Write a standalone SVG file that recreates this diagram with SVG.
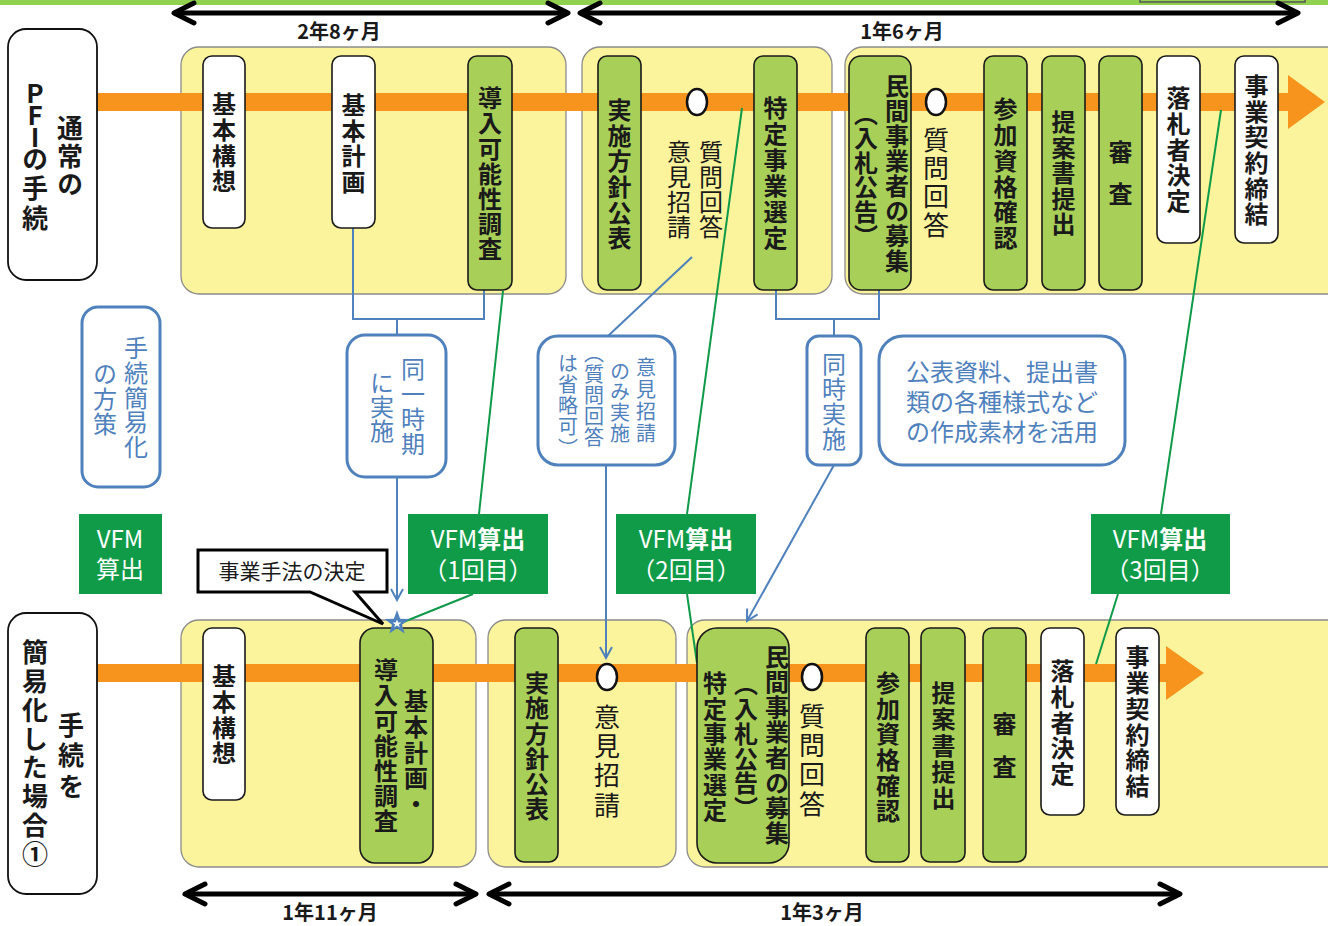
<svg xmlns="http://www.w3.org/2000/svg" width="1328" height="926" viewBox="0 0 1328 926">
<defs>
<style>
.grp{fill:#fbf49c;stroke:#8c8c8c;stroke-width:1.3}
.gb{fill:#a8cf58;stroke:#1a1a1a;stroke-width:1.6}
.wb{fill:#fff;stroke:#1a1a1a;stroke-width:1.6}
.lb{fill:#fff;stroke:#111;stroke-width:1.8}
.bb{fill:#fff;stroke:#4f81bd;stroke-width:3}
.vb{fill:#0f9b48}
.band{fill:#f7941d}
text{font-family:"Noto Sans CJK JP","Noto Sans CJK SC",sans-serif;text-anchor:middle}
.v{writing-mode:vertical-rl;text-anchor:start}
.t{font-size:24px;font-weight:700;fill:#1a1a1a}
.tl{font-size:26px;font-weight:700;fill:#1a1a1a}
.n{font-size:24px;font-weight:400;fill:#1a1a1a}
.n26{font-size:26px;font-weight:400;fill:#1a1a1a}
.bt{font-size:24px;font-weight:400;fill:#4f81bd}
.bt20{font-size:20px;font-weight:400;fill:#4f81bd}
.vt{font-size:24px;font-weight:400;fill:#fff}
.dur{font-size:20px;font-weight:700;fill:#1a1a1a}
.bl{stroke:#4f81bd;stroke-width:2;fill:none}
.gl{stroke:#0e9a48;stroke-width:2;fill:none}
.dbl{stroke:#000;stroke-width:5;fill:none}
.circ{fill:#fff;stroke:#111;stroke-width:2.5}
</style>
<marker id="ah" viewBox="-26 -14 30 28" refX="0" refY="0" markerWidth="30" markerHeight="28" markerUnits="userSpaceOnUse" orient="auto-start-reverse"><path d="M-20,-10 L0,0 L-20,10" fill="none" stroke="#000" stroke-width="5" stroke-linecap="round" stroke-linejoin="round"/></marker>
<marker id="ba" viewBox="0 0 14 14" refX="12" refY="7" markerWidth="14" markerHeight="14" markerUnits="userSpaceOnUse" orient="auto"><path d="M1,1 L12,7 L1,13" fill="none" stroke="#4f81bd" stroke-width="2"/></marker>
</defs>

<rect x="0" y="0" width="1328" height="5" fill="#92d050"/>
<rect x="1140" y="-6" width="165" height="8" fill="#92d050" stroke="#555" stroke-width="1.5"/>

<g id="durations">
<line class="dbl" x1="174" y1="13" x2="568" y2="13" marker-start="url(#ah)" marker-end="url(#ah)"/>
<line class="dbl" x1="580" y1="13" x2="1298" y2="13" marker-start="url(#ah)" marker-end="url(#ah)"/>
<text class="dur" x="339" y="39">2年8ヶ月</text>
<text class="dur" x="902" y="39">1年6ヶ月</text>
<line class="dbl" x1="185" y1="894" x2="476" y2="894" marker-start="url(#ah)" marker-end="url(#ah)"/>
<line class="dbl" x1="489" y1="894" x2="1180" y2="894" marker-start="url(#ah)" marker-end="url(#ah)"/>
<text class="dur" x="330" y="920">1年11ヶ月</text>
<text class="dur" x="822" y="920">1年3ヶ月</text>
</g>

<g id="phases">
<rect class="grp" x="181" y="47" width="385" height="247" rx="18"/>
<rect class="grp" x="582" y="47" width="250" height="247" rx="18"/>
<rect class="grp" x="845" y="47" width="500" height="247" rx="18"/>
<rect class="grp" x="181" y="620" width="295" height="247" rx="18"/>
<rect class="grp" x="488" y="620" width="188" height="247" rx="18"/>
<rect class="grp" x="687" y="620" width="660" height="247" rx="18"/>
</g>

<g id="bands">
<rect class="band" x="97" y="93" width="1193" height="18"/>
<polygon class="band" points="1288,75 1325,102 1288,129"/>
<rect class="band" x="97" y="664" width="1070" height="18"/>
<polygon class="band" points="1166,646 1204,673 1166,700"/>
</g>

<g id="label-normal">
<rect class="lb" x="8" y="29" width="89" height="251" rx="18"/>
<text class="tl v" x="70" y="115" style="letter-spacing:2px">通常の</text>
<text class="tl v" x="35" y="80" style="text-orientation:upright"><tspan style="letter-spacing:-4px">PFI</tspan><tspan style="letter-spacing:3.5px">の手続</tspan></text>
</g>
<g id="label-simple">
<rect class="lb" x="8" y="613" width="89" height="281" rx="18"/>
<text class="tl v" x="71" y="712" style="letter-spacing:4.5px">手続を</text>
<text class="tl v" x="35" y="639" style="letter-spacing:2.9px">簡易化した場合①</text>
</g>

<g id="connectors">
<polyline class="bl" points="353,228 353,319 484,319 484,290"/>
<line class="bl" x1="397" y1="319" x2="397" y2="335"/>
<line class="bl" x1="397" y1="477" x2="397" y2="600" marker-end="url(#ba)"/>
<line class="bl" x1="692" y1="257" x2="608" y2="336"/>
<line class="bl" x1="606" y1="465" x2="606" y2="658" marker-end="url(#ba)"/>
<polyline class="bl" points="776,290 776,319 879,319 879,290"/>
<line class="bl" x1="834" y1="319" x2="834" y2="336"/>
<line class="bl" x1="834" y1="465" x2="747" y2="621" marker-end="url(#ba)"/>
<line class="gl" x1="503" y1="291" x2="479" y2="514"/>
<line class="gl" x1="473" y1="594" x2="401" y2="623"/>
<line class="gl" x1="742" y1="108" x2="687" y2="514"/>
<line class="gl" x1="687" y1="594" x2="697" y2="663"/>
<line class="gl" x1="1221" y1="110" x2="1161" y2="514"/>
<line class="gl" x1="1118" y1="594" x2="1096" y2="664"/>
</g>

<g id="t-kihonkoso"><rect class="wb" x="203" y="56" width="42" height="172" rx="9"/>
<text class="t v" x="224" y="92" style="letter-spacing:1.7px">基本構想</text></g>
<g id="t-kihonkeikaku"><rect class="wb" x="332" y="56" width="43" height="172" rx="9"/>
<text class="t v" x="353.5" y="93" style="letter-spacing:1.5px">基本計画</text></g>
<g id="t-donyu"><rect class="gb" x="468" y="56" width="44" height="234" rx="9"/>
<text class="t v" x="490" y="86" style="letter-spacing:1.2px">導入可能性調査</text></g>
<g id="t-jisshi"><rect class="gb" x="598" y="56" width="43" height="234" rx="9"/>
<text class="t v" x="619.5" y="98" style="letter-spacing:1.6px">実施方針公表</text></g>
<g id="t-iken"><ellipse class="circ" cx="697" cy="102" rx="10" ry="13"/>
<text class="n v" x="711" y="140" style="letter-spacing:1px">質問回答</text>
<text class="n v" x="679" y="140" style="letter-spacing:1px">意見招請</text></g>
<g id="t-tokutei"><rect class="gb" x="754" y="56" width="43" height="234" rx="9"/>
<text class="t v" x="775.5" y="96" style="letter-spacing:2px">特定事業選定</text></g>
<g id="t-boshu"><rect class="gb" x="849" y="56" width="62" height="234" rx="12"/>
<text class="t v" x="897" y="74" style="letter-spacing:1px">民間事業者の募集</text>
<text class="t v" x="866" y="101.5" style="letter-spacing:0.5px">（入札公告）</text></g>
<g id="t-shitsumon"><ellipse class="circ" cx="936" cy="102" rx="10" ry="13"/>
<text class="n26 v" x="936" y="127" style="letter-spacing:2.3px">質問回答</text></g>
<g id="t-sanka"><rect class="gb" x="984" y="56" width="43" height="234" rx="9"/>
<text class="t v" x="1005.5" y="97" style="letter-spacing:1.8px">参加資格確認</text></g>
<g id="t-teian"><rect class="gb" x="1042" y="56" width="43" height="234" rx="9"/>
<text class="t v" x="1063.5" y="110" style="letter-spacing:1.5px">提案書提出</text></g>
<g id="t-shinsa"><rect class="gb" x="1099" y="56" width="43" height="234" rx="9"/>
<text class="t v" x="1120.5" y="140" style="letter-spacing:18px">審査</text></g>
<g id="t-rakusatsu"><rect class="wb" x="1157" y="56" width="43" height="187" rx="9"/>
<text class="t v" x="1178.5" y="86" style="letter-spacing:1.75px">落札者決定</text></g>
<g id="t-keiyaku"><rect class="wb" x="1235" y="56" width="43" height="187" rx="9"/>
<text class="t v" x="1256.5" y="74" style="letter-spacing:1.6px">事業契約締結</text></g>

<g id="n-hosaku"><rect class="bb" x="82" y="307" width="78" height="180" rx="16"/>
<text class="bt v" x="136" y="336" style="letter-spacing:0.75px">手続簡易化</text>
<text class="bt v" x="105" y="362" style="letter-spacing:0.75px">の方策</text></g>
<g id="n-doitsu"><rect class="bb" x="347" y="335" width="99" height="142" rx="18"/>
<text class="bt v" x="413" y="357" style="letter-spacing:1px">同一時期</text>
<text class="bt v" x="382" y="371">に実施</text></g>
<g id="n-ikenonly"><rect class="bb" x="538" y="336" width="137" height="129" rx="20"/>
<text class="bt20 v" x="646" y="357" style="letter-spacing:2px">意見招請</text>
<text class="bt20 v" x="620" y="361" style="letter-spacing:0.7px">のみ実施</text>
<text class="bt20 v" x="594" y="343" style="letter-spacing:1px">（質問回答</text>
<text class="bt20 v" x="568" y="353" style="letter-spacing:1.3px">は省略可）</text></g>
<g id="n-doji"><rect class="bb" x="807" y="336" width="54" height="129" rx="12"/>
<text class="bt v" x="834" y="352" style="letter-spacing:1px">同時実施</text></g>
<g id="n-sozai"><rect class="bb" x="879" y="336" width="246" height="129" rx="24"/>
<text class="bt" x="1002" y="381">公表資料、提出書</text>
<text class="bt" x="1002" y="411">類の各種様式など</text>
<text class="bt" x="1002" y="441">の作成素材を活用</text></g>

<g id="vfm-label"><rect class="vb" x="79" y="514" width="83" height="80"/>
<text class="vt" x="120" y="548">VFM</text><text class="vt" x="120" y="578" font-weight="700">算出</text></g>
<g id="vfm-1"><rect class="vb" x="408" y="514" width="140" height="80"/>
<text class="vt" x="478" y="548">VFM<tspan font-weight="700">算出</tspan></text><text class="vt" x="478" y="579" font-weight="700">（1回目）</text></g>
<g id="vfm-2"><rect class="vb" x="616" y="514" width="140" height="80"/>
<text class="vt" x="686" y="548">VFM<tspan font-weight="700">算出</tspan></text><text class="vt" x="686" y="579" font-weight="700">（2回目）</text></g>
<g id="vfm-3"><rect class="vb" x="1091" y="514" width="139" height="80"/>
<text class="vt" x="1160" y="548">VFM<tspan font-weight="700">算出</tspan></text><text class="vt" x="1160" y="579" font-weight="700">（3回目）</text></g>

<g id="b-kihonkoso"><rect class="wb" x="203" y="628" width="42" height="172" rx="9"/>
<text class="t v" x="224" y="664" style="letter-spacing:1.7px">基本構想</text></g>
<g id="b-kihon-donyu"><rect class="gb" x="360" y="628" width="73" height="235" rx="15"/>
<text class="t v" x="416" y="689" style="letter-spacing:1.7px">基本計画・</text>
<text class="t v" x="386" y="658" style="letter-spacing:1.2px">導入可能性調査</text></g>
<g id="b-jisshi"><rect class="gb" x="515" y="628" width="43" height="234" rx="9"/>
<text class="t v" x="537" y="671" style="letter-spacing:1.2px">実施方針公表</text></g>
<g id="b-iken"><ellipse class="circ" cx="607" cy="677" rx="10" ry="13"/>
<text class="n26 v" x="607" y="703.7" style="letter-spacing:3.4px">意見招請</text></g>
<g id="b-tokutei-boshu"><rect class="gb" x="697" y="628" width="92" height="235" rx="20"/>
<text class="t v" x="777" y="645" style="letter-spacing:1.1px">民間事業者の募集</text>
<text class="t v" x="746" y="672.3" style="letter-spacing:0.7px">（入札公告）</text>
<text class="t v" x="715" y="671" style="letter-spacing:1.4px">特定事業選定</text></g>
<g id="b-shitsumon"><ellipse class="circ" cx="812" cy="677" rx="10" ry="13"/>
<text class="n26 v" x="812" y="703" style="letter-spacing:3.3px">質問回答</text></g>
<g id="b-sanka"><rect class="gb" x="866" y="628" width="43" height="234" rx="9"/>
<text class="t v" x="888" y="671" style="letter-spacing:1.6px">参加資格確認</text></g>
<g id="b-teian"><rect class="gb" x="921" y="628" width="44" height="234" rx="9"/>
<text class="t v" x="943.5" y="681" style="letter-spacing:2.2px">提案書提出</text></g>
<g id="b-shinsa"><rect class="gb" x="983" y="628" width="43" height="234" rx="9"/>
<text class="t v" x="1004.5" y="712" style="letter-spacing:19px">審査</text></g>
<g id="b-rakusatsu"><rect class="wb" x="1041" y="628" width="43" height="187" rx="9"/>
<text class="t v" x="1062.5" y="659" style="letter-spacing:1.75px">落札者決定</text></g>
<g id="b-keiyaku"><rect class="wb" x="1116" y="628" width="43" height="187" rx="9"/>
<text class="t v" x="1137.5" y="645" style="letter-spacing:1.8px">事業契約締結</text></g>

<g id="callout">
<path d="M198,550 H387 V592 H355 L383,624 L310,592 H198 Z" fill="#fff" stroke="#000" stroke-width="3" stroke-linejoin="miter"/>
<text class="n" style="font-size:21px" x="292" y="579">事業手法の決定</text>
</g>
<g id="star">
<polygon points="397,610 400.1,618.8 409.4,619 402,624.7 404.6,633.6 397,628.3 389.4,633.6 392,624.7 384.6,619 393.9,618.8" fill="#4f81bd"/>
<polygon points="397,619.5 398.2,622.4 401.3,622.5 398.9,624.4 399.7,627.3 397,625.6 394.3,627.3 395.1,624.4 392.7,622.5 395.8,622.4" fill="#fff"/>
</g>
</svg>
